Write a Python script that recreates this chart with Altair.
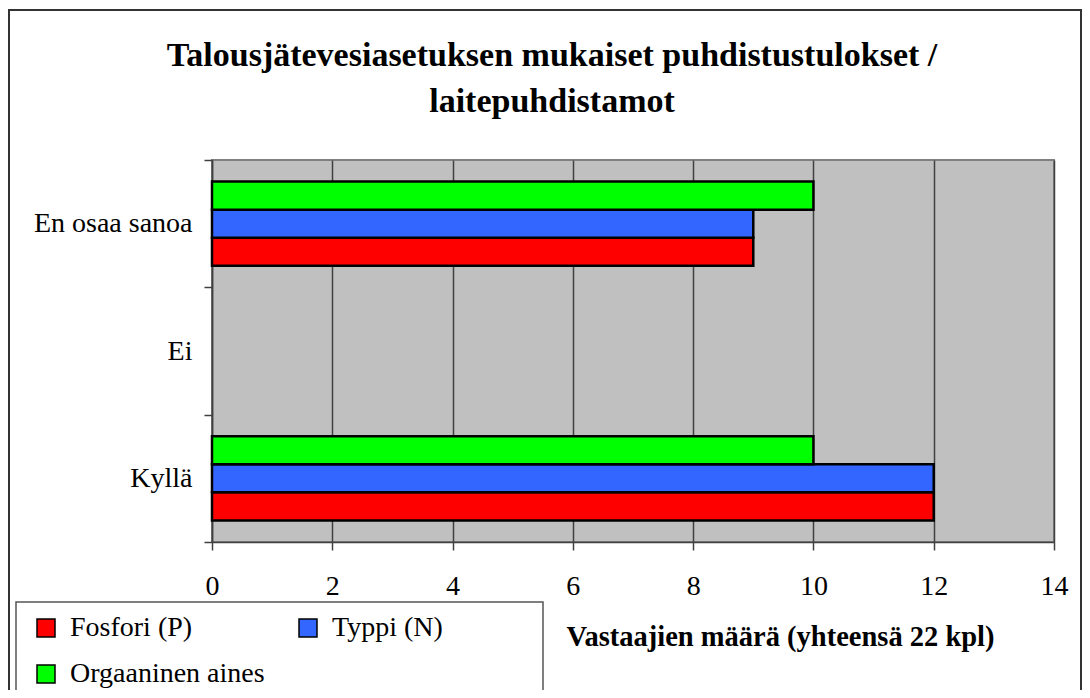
import altair as alt
import pandas as pd

categories = ["En osaa sanoa", "Ei", "Kyllä"]
series = ["Fosfori (P)", "Typpi (N)", "Orgaaninen aines"]
fosfori = [9, 0, 12]
typpi = [9, 0, 12]
orgaaninen = [10, 0, 10]
colors = ["#FF0000", "#3366FF", "#00FF00"]
x_ticks = [0, 2, 4, 6, 8, 10, 12, 14]

rows = []
for name, vals in zip(series, [fosfori, typpi, orgaaninen]):
    for c, v in zip(categories, vals):
        rows.append({"kategoria": c, "sarja": name, "arvo": v})
df = pd.DataFrame(rows)

FONT = "Liberation Serif"

bars = alt.Chart(df).transform_filter("datum.arvo > 0").mark_bar(
    stroke="black", strokeWidth=2.5
).encode(
    x=alt.X("arvo:Q",
            scale=alt.Scale(domain=[0, 14], nice=False),
            axis=alt.Axis(values=x_ticks, title="Vastaajien määrä (yhteensä 22 kpl)",
                          grid=True, gridColor="#404040", gridWidth=1.5,
                          domainColor="#404040", domainWidth=1.5,
                          tickColor="#404040", tickWidth=1.5, tickSize=8,
                          labelFont=FONT, labelFontSize=28, labelColor="black",
                          labelPadding=22, labelFlush=False,
                          titleFont=FONT, titleFontSize=28.5, titleFontWeight="bold",
                          titleColor="black", titleX=568, titleY=94,
                          titleAlign="center", titleBaseline="middle")),
    y=alt.Y("kategoria:N", sort=categories,
            scale=alt.Scale(domain=categories, paddingInner=0, paddingOuter=0),
            axis=alt.Axis(title=None, tickBand="extent", tickSize=8,
                          tickColor="#404040", tickWidth=1.5,
                          domainColor="#404040", domainWidth=1.5,
                          labelFont=FONT, labelFontSize=28, labelColor="black",
                          labelPadding=12)),
    yOffset=alt.YOffset("sarja:N", sort=["Orgaaninen aines", "Typpi (N)", "Fosfori (P)"],
                        scale=alt.Scale(paddingInner=0, paddingOuter=0.77)),
    color=alt.Color("sarja:N",
                    scale=alt.Scale(domain=series, range=colors),
                    legend=alt.Legend(title=None, orient="none", legendX=-180, legendY=454,
                                      direction="horizontal", columns=2,
                                      columnPadding=29, rowPadding=18,
                                      symbolType="square", symbolSize=324,
                                      symbolStrokeColor="black", symbolStrokeWidth=1.5,
                                      symbolOpacity=1, labelLimit=0,
                                      labelFont=FONT, labelFontSize=28, labelColor="black",
                                      labelOffset=10, padding=0)),
)

one = pd.DataFrame({"k": [0]})
frame = alt.Chart(one).mark_rect(filled=False, stroke="#333333", strokeWidth=2).encode(
    x=alt.value(-203), x2=alt.value(869), y=alt.value(-150), y2=alt.value(560)
)
legend_box = alt.Chart(one).mark_rect(filled=False, stroke="#555555", strokeWidth=1.5).encode(
    x=alt.value(-196), x2=alt.value(331), y=alt.value(442), y2=alt.value(600)
)

chart = alt.layer(frame, legend_box, bars).properties(
    width=842, height=382,
    autosize=alt.AutoSizeParams(type="none"),
    padding={"left": 204, "top": 152, "right": 28, "bottom": 148},
    title=alt.TitleParams(
        text=["Talousjätevesiasetuksen mukaiset puhdistustulokset /", "laitepuhdistamot"],
        font=FONT, fontSize=34, fontWeight="bold", color="black",
        anchor="middle", frame="group", dx=-81, lineHeight=46, offset=-110
    ),
).configure_view(fill="#C0C0C0", stroke="#808080", strokeWidth=2)

chart.save("out.html", embed_options={"renderer": "svg", "actions": False})
